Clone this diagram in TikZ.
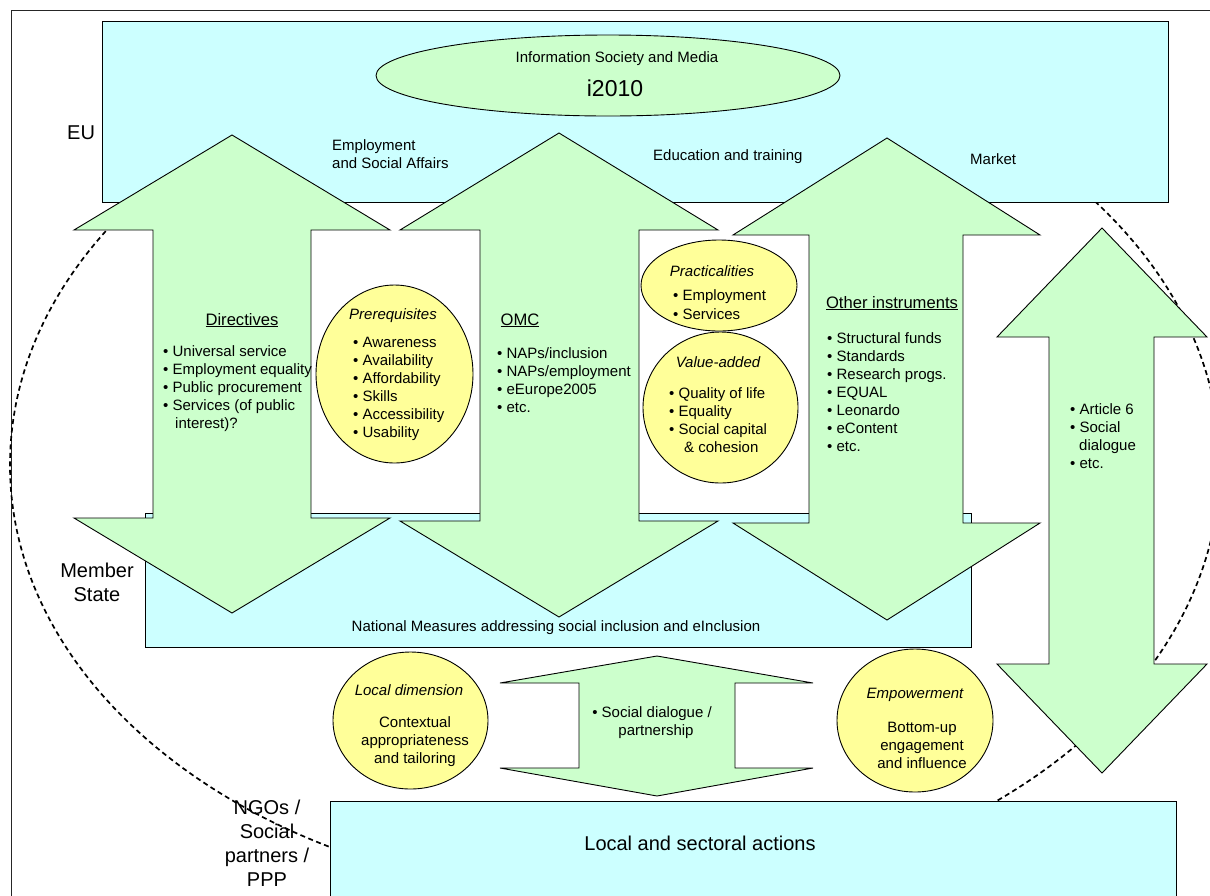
\documentclass[tikz,border=0pt]{standalone}
\usepackage{fontspec}
\setmainfont{Liberation Sans}
\usetikzlibrary{positioning}

\definecolor{levelcyan}{HTML}{CCFFFF}
\definecolor{arrowgreen}{HTML}{CCFFCC}
\definecolor{blobyellow}{HTML}{FFFF99}

\begin{document}
\begin{tikzpicture}[x=1pt,y=-1pt,
	level/.style={draw=black, fill=levelcyan, line width=0.9pt},
	bigarrow/.style={draw=black, fill=arrowgreen, line width=0.9pt, line join=miter},
	blob/.style={draw=black, fill=blobyellow, line width=0.9pt},
	txt/.style={inner sep=0pt, font=\fontsize{15}{18}\selectfont},
	headtxt/.style={inner sep=0pt, font=\fontsize{16.6}{20}\selectfont},
	bigtxt/.style={inner sep=0pt, font=\fontsize{20}{24}\selectfont}]
	\useasboundingbox (0,0) rectangle (1210,895);
	\clip (0,0) rectangle (1210,895);
	% outer frame
	\draw[line width=0.9pt, black!85] (11,10) rectangle (1240,930);
	
	% NGOs label sits under the dashed line
	\foreach \word [count=\k from 0] in {NGOs /, Social, partners /, PPP}
	\node[bigtxt, anchor=base] (ngo\k) at (267,814+24.3*\k) {\word};
	
	% dashed circle round the member state
	\draw[line width=1.7pt, dash pattern=on 5pt off 3.5pt] (615,465) ellipse [x radius=605, y radius=433];
	
	% levels
	\draw[level] (102,21) rectangle (1168,202);
	\draw[draw=black, fill=arrowgreen, line width=0.9pt] (608,75.5) ellipse [x radius=232, y radius=40.5];
	\draw[level] (145,513) rectangle (971,647);
	\draw[level] (330,801) rectangle (1176,940);
	
	% big double arrows
	\draw[bigarrow] (232,135) -- (390,230) -- (311,230) -- (311,518) -- (390,518) -- (232,613)
	-- (74,518) -- (153,518) -- (153,230) -- (74,230) -- cycle;
	\draw[bigarrow] (559,133) -- (718,230) -- (639,230) -- (639,521) -- (718,521) -- (559,617)
	-- (400,521) -- (480,521) -- (480,230) -- (400,230) -- cycle;
	\draw[bigarrow] (887,138) -- (1040,235) -- (963,235) -- (963,523) -- (1040,523) -- (887,620)
	-- (733,523) -- (809,523) -- (809,235) -- (733,235) -- cycle;
	\draw[bigarrow] (1102,228) -- (1207,337) -- (1154,337) -- (1154,664) -- (1207,664) -- (1102,773)
	-- (997,664) -- (1049,664) -- (1049,337) -- (997,337) -- cycle;
	\draw[bigarrow] (657,656) -- (813,683) -- (735,683) -- (735,768) -- (813,768) -- (657,796)
	-- (500,768) -- (579,768) -- (579,683) -- (500,683) -- cycle;
	
	% yellow blobs
	\draw[blob] (394.5,374) ellipse [x radius=78.5, y radius=89];
	\draw[blob] (719,285.5) ellipse [x radius=78, y radius=45.5];
	\draw[blob] (720.5,407.5) ellipse [x radius=77.5, y radius=75.5];
	\draw[blob] (410.5,720.5) ellipse [x radius=77.5, y radius=68.5];
	\draw[blob] (915,720.5) ellipse [x radius=78, y radius=71.5];
	
	% EU level
	\node[txt, anchor=base] (ism) at (617,62) {Information Society and Media};
	\node[inner sep=0pt, font=\fontsize{23}{27}\selectfont, anchor=base] (i2010) at (615,96) {i2010};
	\node[bigtxt, anchor=base west] (eu) at (67,139) {EU};
	\node[txt, anchor=base west] (esa1) at (332,150) {Employment};
	\node[txt, anchor=base west] (esa2) at (332,168) {and Social Affairs};
	\node[txt, anchor=base west] (edu) at (653,160) {Education and training};
	\node[txt, anchor=base west] (market) at (970,164) {Market};
	
	% Directives
	\node[headtxt, anchor=base] (directives) at (242,325) {\underline{Directives}};
	\foreach \word [count=\k from 0] in {Universal service, Employment equality, Public procurement, Services (of public}
	\node[txt, anchor=base west] (dir\k) at (163,356+18*\k) {• \word};
	\node[txt, anchor=base west] (dir4) at (175,428) {interest)?};
	
	% Prerequisites
	\node[txt, anchor=base] (prereq) at (393,319) {\itshape Prerequisites};
	\foreach \word [count=\k from 0] in {Awareness, Availability, Affordability, Skills, Accessibility, Usability}
	\node[txt, anchor=base west] (pre\k) at (353,347+18*\k) {• \word};
	
	% OMC
	\node[headtxt, anchor=base] (omc) at (520,325) {\underline{OMC}};
	\foreach \word [count=\k from 0] in {NAPs/inclusion, NAPs/employment, eEurope2005, etc.}
	\node[txt, anchor=base west] (omc\k) at (497,358+18*\k) {• \word};
	
	% Practicalities and value-added
	\node[txt, anchor=base] (practical) at (712,276) {\itshape Practicalities};
	\foreach \word [count=\k from 0] in {Employment, Services}
	\node[txt, anchor=base west] (prac\k) at (673,300+19*\k) {• \word};
	\node[txt, anchor=base] (valueadd) at (718,367) {\itshape Value-added};
	\foreach \word [count=\k from 0] in {Quality of life, Equality, Social capital}
	\node[txt, anchor=base west] (val\k) at (669,398+18*\k) {• \word};
	\node[txt, anchor=base west] (val3) at (684,452) {\& cohesion};
	
	% Other instruments
	\node[headtxt, anchor=base] (other) at (892,308) {\underline{Other instruments}};
	\foreach \word [count=\k from 0] in {Structural funds, Standards, Research progs., EQUAL, Leonardo, eContent, etc.}
	\node[txt, anchor=base west] (oth\k) at (827,343+18*\k) {• \word};
	
	% Article 6
	\node[txt, anchor=base west] (art0) at (1070,414) {• Article 6};
	\node[txt, anchor=base west] (art1) at (1070,432) {• Social};
	\node[txt, anchor=base west] (art2) at (1079,450) {dialogue};
	\node[txt, anchor=base west] (art3) at (1070,468) {• etc.};
	
	% Member State level
	\node[bigtxt, anchor=base] (member) at (97,577) {Member};
	\node[bigtxt, anchor=base] (state) at (97,601) {State};
	\node[txt, anchor=base] (national) at (556,631) {National Measures addressing social inclusion and eInclusion};
	
	% local level
	\node[txt, anchor=base] (localdim) at (409,695) {\itshape Local dimension};
	\foreach \word [count=\k from 0] in {Contextual, appropriateness, and tailoring}
	\node[txt, anchor=base] (ctx\k) at (415,727+18*\k) {\word};
	\node[txt, anchor=base] (sd0) at (652,717) {• Social dialogue /};
	\node[txt, anchor=base] (sd1) at (656,735) {partnership};
	\node[txt, anchor=base] (empower) at (915,698) {\itshape Empowerment};
	\foreach \word [count=\k from 0] in {Bottom-up, engagement, and influence}
	\node[txt, anchor=base] (emp\k) at (922,732+18*\k) {\word};
	\node[bigtxt, anchor=base] (local) at (700,850) {Local and sectoral actions};
\end{tikzpicture}
\end{document}
